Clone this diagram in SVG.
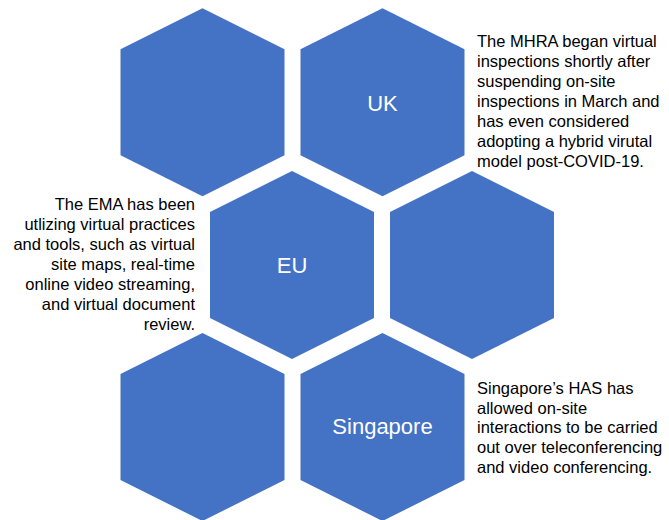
<svg xmlns="http://www.w3.org/2000/svg" width="669" height="520" viewBox="0 0 669 520">
<style>
.hex{fill:#4472C4;}
.lbl{font-family:"Liberation Sans",Arial,sans-serif;font-size:22px;fill:#ffffff;text-anchor:middle;}
.body{font-family:"Liberation Sans",Arial,sans-serif;font-size:16.5px;fill:#000000;}
.r{text-anchor:end;}
</style>
<rect width="669" height="520" fill="#ffffff"/>
<defs>
<polygon id="hx" points="0,-94 82,-53 82,53 0,94 -82,53 -82,-53"/>
</defs>
<g id="hex-top-left"><use href="#hx" class="hex" x="202.5" y="102.3"/></g>
<g id="hex-uk"><use href="#hx" class="hex" x="382.5" y="102.3"/><text class="lbl" x="382.5" y="110.5">UK</text></g>
<g id="hex-eu"><use href="#hx" class="hex" x="292" y="265"/><text class="lbl" x="292" y="273">EU</text></g>
<g id="hex-mid-right"><use href="#hx" class="hex" x="472" y="265"/></g>
<g id="hex-bottom-left"><use href="#hx" class="hex" x="202.5" y="427"/></g>
<g id="hex-singapore"><use href="#hx" class="hex" x="382.5" y="427"/><text class="lbl" x="382.5" y="434">Singapore</text></g>
<g id="connectors"></g>
<g id="text-uk">
<text class="body" x="477"><tspan x="477" y="47">The MHRA began virtual</tspan><tspan x="477" y="67">inspections shortly after</tspan><tspan x="477" y="87">suspending on-site</tspan><tspan x="477" y="106.5">inspections in March and</tspan><tspan x="477" y="126.5">has even considered</tspan><tspan x="477" y="146.5">adopting a hybrid virutal</tspan><tspan x="477" y="166.5">model post-COVID-19.</tspan></text>
</g>
<g id="text-eu">
<text class="body r" x="195"><tspan x="195" y="210">The EMA has been</tspan><tspan x="195" y="230">utlizing virtual practices</tspan><tspan x="195" y="250">and tools, such as virtual</tspan><tspan x="195" y="270">site maps, real-time</tspan><tspan x="195" y="290">online video streaming,</tspan><tspan x="195" y="310">and virtual document</tspan><tspan x="195" y="330">review.</tspan></text>
</g>
<g id="text-singapore">
<text class="body" x="477"><tspan x="477" y="394">Singapore’s HAS has</tspan><tspan x="477" y="413.7">allowed on-site</tspan><tspan x="477" y="433.3">interactions to be carried</tspan><tspan x="477" y="453">out over teleconferencing</tspan><tspan x="477" y="472.7">and video conferencing.</tspan></text>
</g>
</svg>
